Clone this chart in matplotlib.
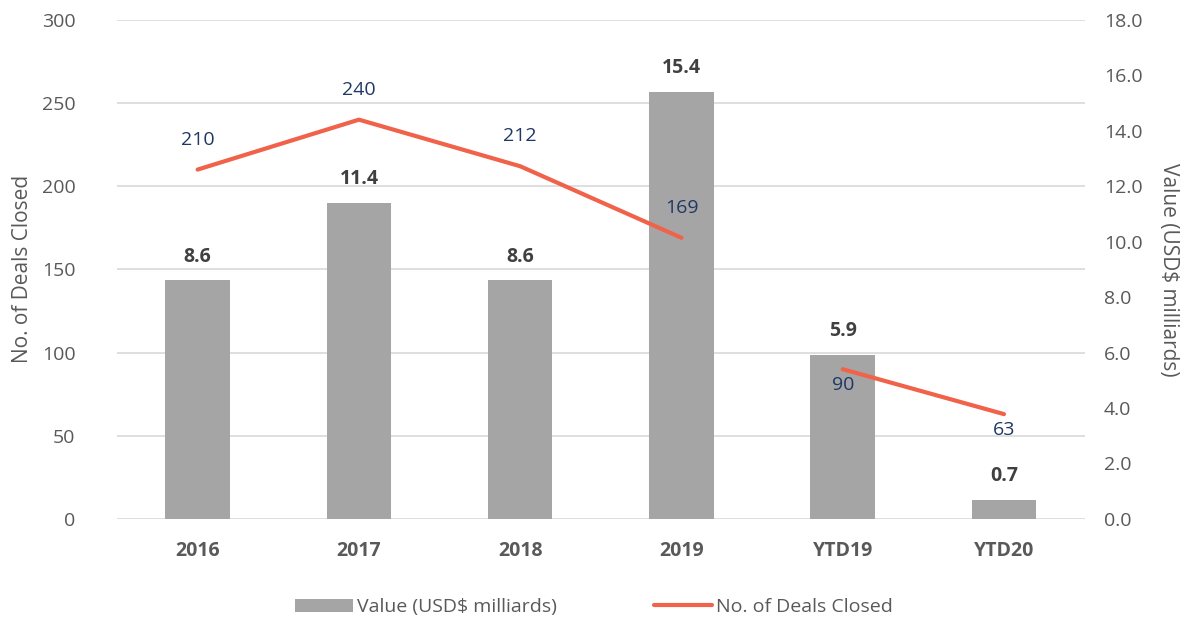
import matplotlib.pyplot as plt
import numpy as np

plt.rcParams['font.family'] = ['Open Sans', 'DejaVu Sans']

categories = ["2016", "2017", "2018", "2019", "YTD19", "YTD20"]
values = [8.6, 11.4, 8.6, 15.4, 5.9, 0.7]      # USD$ milliards (right axis)
deals = [210, 240, 212, 169, 90, 63]           # no. of deals (left axis)
# the line is split between the full years and the YTD points
segments = [(0, 4), (4, 6)]

bar_col = "#A5A5A5"
line_col = "#F0634A"
txt_col = "#595959"
lbl_col = "#1F3864"

fig = plt.figure(figsize=(11.88, 6.2), dpi=100)
ax = fig.add_axes([0.0985, 0.163, 0.8145, 0.805])
ax2 = ax.twinx()

x = np.arange(len(categories))
deal_ticks = list(range(0, 301, 50))

# bars on the right axis, drawn behind the line
ax2.bar(x, values, width=0.4, color=bar_col, zorder=2, label="Value (USD$ milliards)")
for xi, v in zip(x, values):
    ax2.annotate("%.1f" % v, (xi, v), xytext=(0, 10), textcoords="offset points",
                 ha="center", va="bottom", fontsize=14, fontweight="bold", color="#404040")
ax2.set_ylim(0, 18)
ax2.set_yticks(np.arange(0, 18.1, 2))
ax2.set_yticklabels(["%.1f" % t for t in np.arange(0, 18.1, 2)])

# gridlines follow the left axis ticks but sit on the bar axis, behind the bars
for t in deal_ticks:
    ax2.axhline(t * 18 / 300, color="#D9D9D9", lw=1.2, zorder=0)

# line on the left axis, moved to the front
ax.set_zorder(ax2.get_zorder() + 1)
ax.patch.set_visible(False)
for i, (a, b) in enumerate(segments):
    ax.plot(x[a:b], deals[a:b], color=line_col, lw=3, solid_capstyle="round",
            zorder=3, label="No. of Deals Closed" if i == 0 else None)
for xi, d in zip(x, deals):
    if xi < 4:
        ax.annotate(str(d), (xi, d), xytext=(0, 15), textcoords="offset points",
                    ha="center", va="bottom", fontsize=14, color=lbl_col)
    else:
        ax.annotate(str(d), (xi, d), xytext=(0, -5), textcoords="offset points",
                    ha="center", va="top", fontsize=14, color=lbl_col)
ax.set_ylim(0, 300)
ax.set_yticks(deal_ticks)
ax.set_xlim(-0.5, 5.5)
ax.set_xticks(x)
ax.set_xticklabels(categories, fontweight="bold")

for a_ in (ax, ax2):
    for s in a_.spines.values():
        s.set_visible(False)
    a_.tick_params(length=0, labelsize=14, colors=txt_col)
ax.tick_params(axis="x", pad=16)
ax.tick_params(axis="y", pad=30)
ax2.tick_params(axis="y", pad=14)

ax.set_ylabel("No. of Deals Closed", fontsize=15, color=txt_col, labelpad=6)
ax2.set_ylabel("Value (USD$ milliards)", fontsize=15, color=txt_col, rotation=270, labelpad=26)

h1, l1 = ax2.get_legend_handles_labels()
h2, l2 = ax.get_legend_handles_labels()
fig.legend(h1 + h2, l1 + l2, loc="lower center", bbox_to_anchor=(0.5, -0.022), ncol=2,
           frameon=False, fontsize=14, labelcolor=txt_col, handlelength=3,
           handletextpad=0.2, columnspacing=5)

fig.savefig("out.png", dpi=100)
